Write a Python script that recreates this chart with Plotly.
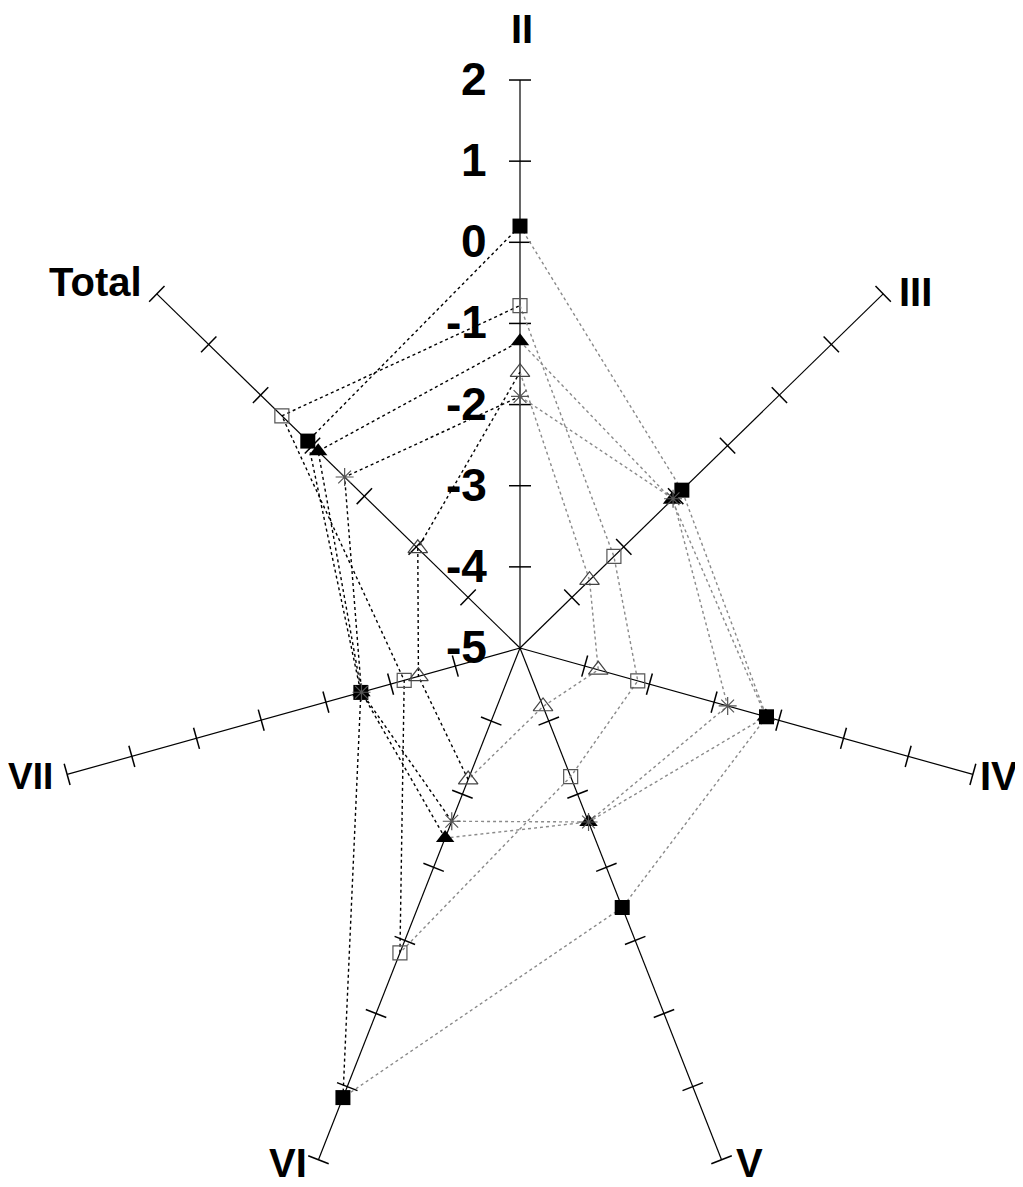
import numpy as np
import plotly.graph_objects as go

# ---------------- data ----------------
axis_labels = ["II", "III", "IV", "V", "VI", "VII", "Total"]
tick_values = [2, 1, 0, -1, -2, -3, -4, -5]
tick_labels = ["2", "1", "0", "-1", "-2", "-3", "-4", "-5"]
r_min, r_max = -5, 2

filled_squares = [0.2, -1.88, -1.19, -1.45, 1.15, -2.54, -0.91]
open_squares = [-0.78, -3.19, -3.18, -3.24, -0.83, -3.21, -0.41]
filled_triangles = [-1.22, -2.07, -1.20, -2.62, -2.40, -2.55, -1.11]
open_triangles = [-1.60, -3.66, -3.79, -4.20, -3.20, -3.43, -3.03]
asterisks = [-1.90, -2.05, -1.79, -2.62, -2.63, -2.55, -1.62]

# ---------------- geometry / styling ----------------
# the page body has an 8px margin, so the figure is sized to fill the rest of the window
W, H = 1015, 1179
CX, CY = 512, 640          # pixel position of the centre inside the figure
KX, KY = 66.36, 81.14      # pixels per radial unit horizontally / vertically
n = len(axis_labels)
ang = np.radians(90 - np.arange(n) * 360.0 / n)
cosA, sinA = np.cos(ang), np.sin(ang)

FONT = "Liberation Sans Narrow, Arial Narrow, Liberation Sans, Arial, sans-serif"


def proj(vals, idx):
    r = np.asarray(vals, float) - r_min
    return r * cosA[idx], r * sinA[idx]


fig = go.Figure()

# axis spokes
sx, sy = [], []
R = r_max - r_min
for i in range(n):
    sx += [0, R * cosA[i], None]
    sy += [0, R * sinA[i], None]
fig.add_trace(go.Scatter(x=sx, y=sy, mode="lines", line=dict(color="black", width=1.2),
                         hoverinfo="skip", showlegend=False))

# tick marks (perpendicular on screen)
tx, ty = [], []
half = 11.0
for i in range(n):
    dx, dy = cosA[i] * KX, -sinA[i] * KY
    L = np.hypot(dx, dy)
    nx, ny = -dy / L, dx / L
    for v in tick_values[:-1]:
        r = v - r_min
        px, py = r * cosA[i], r * sinA[i]
        tx += [px - half * nx / KX, px + half * nx / KX, None]
        ty += [py + half * ny / KY, py - half * ny / KY, None]
fig.add_trace(go.Scatter(x=tx, y=ty, mode="lines", line=dict(color="black", width=1.5),
                         hoverinfo="skip", showlegend=False))

series = [
    ("filled squares", filled_squares, "square", 15, "black", 0),
    ("open squares", open_squares, "square-open", 14, "#555555", 1.2),
    ("filled triangles", filled_triangles, "triangle-up", 16, "black", 0),
    ("open triangles", open_triangles, "triangle-up-open", 17, "#444444", 1.2),
    ("asterisks", asterisks, "asterisk-open", 15, "#555555", 1.2),
]

right_idx = [0, 1, 2, 3, 4]       # II -> III -> IV -> V -> VI
left_idx = [4, 5, 6, 0]           # VI -> VII -> Total -> II

for name, vals, sym, size, col, lw in series:
    v = np.asarray(vals, float)
    xr, yr = proj(v[right_idx], right_idx)
    fig.add_trace(go.Scatter(x=xr, y=yr, mode="lines",
                             line=dict(color="#8a8a8a", width=1.4, dash="dot"),
                             hoverinfo="skip", showlegend=False))
    xl, yl = proj(v[left_idx], left_idx)
    fig.add_trace(go.Scatter(x=xl, y=yl, mode="lines",
                             line=dict(color="black", width=1.4, dash="dot"),
                             hoverinfo="skip", showlegend=False))

for name, vals, sym, size, col, lw in series:
    idx = list(range(n))
    xm, ym = proj(vals, idx)
    fig.add_trace(go.Scatter(x=xm, y=ym, mode="markers", name=name,
                             marker=dict(symbol=sym, size=size, color=col,
                                         line=dict(width=lw, color=col)),
                             cliponaxis=False, showlegend=False))

annotations = []
# value labels along the II axis
for v, t in zip(tick_values, tick_labels):
    annotations.append(dict(x=0, y=v - r_min, xref="x", yref="y", text=t,
                            showarrow=False, xanchor="right", yanchor="middle",
                            xshift=-31, yshift=1,
                            font=dict(family=FONT, size=46, color="black", weight="bold")))

# axis titles: (xanchor, yanchor, xshift, yshift, size)
title_pos = [("center", "middle", 2, 51, 40), ("left", "middle", 14, 2, 40),
             ("right", "middle", 47, -2, 40),
             ("left", "bottom", 12, -27, 40), ("right", "bottom", -9, -27, 40),
             ("right", "middle", -12, -2, 37), ("right", "middle", -13, 12, 40)]
for i, lab in enumerate(axis_labels):
    xa, ya, xs, ys, fs = title_pos[i]
    annotations.append(dict(x=R * cosA[i], y=R * sinA[i], xref="x", yref="y", text=lab,
                            showarrow=False, xanchor=xa, yanchor=ya,
                            xshift=xs, yshift=ys,
                            font=dict(family=FONT, size=fs, color="black", weight="bold")))

fig.update_layout(
    width=W, height=H,
    margin=dict(l=0, r=0, t=0, b=0),
    paper_bgcolor="white", plot_bgcolor="white",
    xaxis=dict(range=[-CX / KX, (W - CX) / KX], visible=False, fixedrange=True),
    yaxis=dict(range=[-(H - CY) / KY, CY / KY], visible=False, fixedrange=True),
    annotations=annotations,
    showlegend=False,
)

fig.write_html("out.html")
